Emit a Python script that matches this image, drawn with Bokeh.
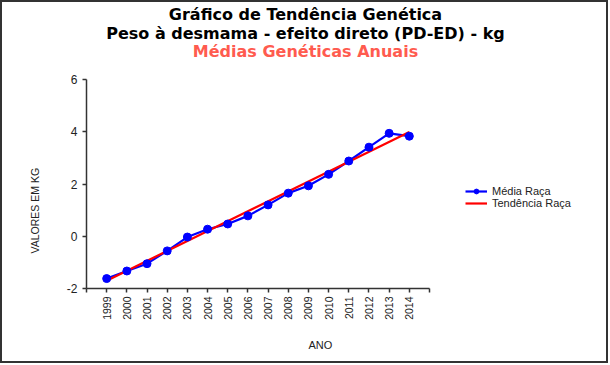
from bokeh.plotting import figure
from bokeh.models import (Range1d, FixedTicker, Legend, LegendItem, ColumnDataSource, Title, Label)
from bokeh.embed import file_html
from bokeh.resources import INLINE
from math import pi

# ---- data ----
years = [1999, 2000, 2001, 2002, 2003, 2004, 2005, 2006, 2007, 2008, 2009, 2010, 2011, 2012, 2013, 2014]
media_raca = [-1.62, -1.33, -1.05, -0.56, -0.03, 0.27, 0.47, 0.78, 1.20, 1.65, 1.93, 2.37, 2.88, 3.41, 3.94, 3.83]
trend_years = [1999, 2014]
tendencia_raca = [-1.70, 3.99]
x_ticks = list(range(1998, 2016))
y_ticks = [-2, 0, 2, 4, 6]
title_lines = ["Gráfico de Tendência Genética", "Peso à desmama - efeito direto (PD-ED) - kg", "Médias Genéticas Anuais"]

# ---- layout (pixels) ----
W, H = 608, 363
left, bottom = 84, 77          # frame extends to top/right edges; axes limited by bounds
axis_w, axis_h = 343, 209      # drawn length of the x and y axes
frame_w, frame_h = W - left, H - bottom
x0, x1 = x_ticks[0], x_ticks[-1]
y0, y1 = y_ticks[0], y_ticks[-1]
x_end = x0 + (x1 - x0) * frame_w / axis_w
y_end = y0 + (y1 - y0) * frame_h / axis_h

p = figure(width=W, height=H, output_backend="svg", toolbar_location=None,
           x_range=Range1d(x0, x_end), y_range=Range1d(y0, y_end),
           min_border_left=left, min_border_right=0, min_border_top=0, min_border_bottom=bottom)
p.title = None
p.outline_line_color = None
p.grid.visible = False
p.background_fill_color = "white"
p.border_fill_color = "white"
p.styles = {"border": "2px solid #333333"}

axis_col = "#333333"
for ax in (p.xaxis[0], p.yaxis[0]):
    ax.axis_line_color = axis_col
    ax.axis_line_width = 1.5
    ax.major_tick_line_color = axis_col
    ax.major_tick_line_width = 1.5
    ax.major_tick_in = 0
    ax.major_tick_out = 4
    ax.minor_tick_line_color = None
    ax.major_label_text_font = "Liberation Sans"
    ax.major_label_text_color = "#222222"

p.xaxis.bounds = (x0, x1)
p.xaxis.ticker = FixedTicker(ticks=x_ticks)
p.xaxis.major_label_overrides = {x_ticks[0]: "", x_ticks[-1]: ""}
p.xaxis.major_label_orientation = pi / 2
p.xaxis.major_label_text_font_size = "10.5px"
p.xaxis.major_label_standoff = 4

p.yaxis.bounds = (y0, y1)
p.yaxis.ticker = FixedTicker(ticks=y_ticks)
p.yaxis.major_label_overrides = {t: str(t) for t in y_ticks}
p.yaxis.major_label_text_font_size = "12px"
p.yaxis.major_label_standoff = 5

src = ColumnDataSource(dict(x=years, y=media_raca))
l_media = p.line("x", "y", source=src, line_color="#0000FF", line_width=2.2)
l_trend = p.line(trend_years, tendencia_raca, line_color="#FF0000", line_width=2.2)
s_media = p.scatter("x", "y", source=src, size=8, fill_color="#0000FF", line_color="#0000FF")

legend = Legend(items=[LegendItem(label="Média Raça", renderers=[l_media, s_media]),
                       LegendItem(label="Tendência Raça", renderers=[l_trend])],
                location=(379, 79), orientation="vertical")
legend.label_text_font = "Liberation Sans"
legend.label_text_font_size = "11px"
legend.label_text_color = "#222222"
legend.glyph_width = 22
legend.glyph_height = 12
legend.label_height = 12
legend.label_standoff = 5
legend.spacing = 0
legend.padding = 0
legend.margin = 0
legend.border_line_color = None
legend.background_fill_alpha = 0
p.add_layout(legend, "center")

tfont = "DejaVu Sans"
for txt, sy, col in zip(title_lines, [274, 255, 237], ["#000000", "#000000", "#FF5B4F"]):
    p.add_layout(Label(x=219, y=sy, x_units="screen", y_units="screen", text=txt,
                       text_font=tfont, text_font_style="bold", text_font_size="16px",
                       text_align="center", text_baseline="middle", text_color=col))

p.add_layout(Title(text="ANO", text_font="Liberation Sans", text_font_style="normal",
                   text_font_size="11px", text_color="#222222", align="left",
                   offset=222, standoff=28), "below")
p.add_layout(Title(text="VALORES EM KG", text_font="Liberation Sans", text_font_style="normal",
                   text_font_size="10.5px", text_color="#222222", align="left",
                   offset=35, standoff=46), "left")

open("out.html", "w").write(file_html(p, INLINE))
